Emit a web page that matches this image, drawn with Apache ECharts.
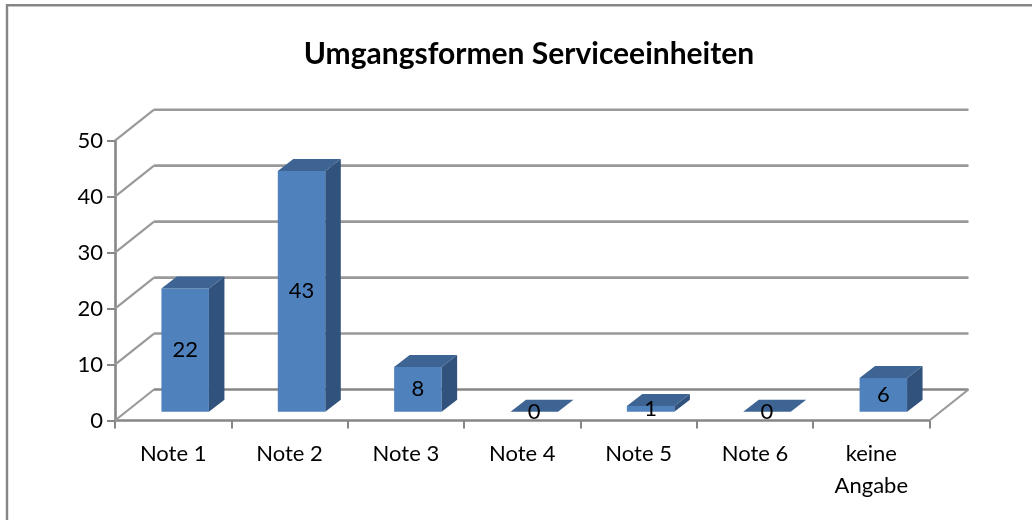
<!DOCTYPE html>
<html>
<head>
<meta charset="utf-8">
<style>html,body{margin:0;padding:0;background:#fff}#c{width:1032px;height:520px}</style>
<script src="https://cdn.jsdelivr.net/npm/echarts@6/dist/echarts.min.js"></script>
</head>
<body>
<div id="c"></div>
<script>
const titleText = 'Umgangsformen Serviceeinheiten';
const categories = ['Note 1','Note 2','Note 3','Note 4','Note 5','Note 6','keine\nAngabe'];
const values = [22,43,8,0,1,0,6];
const yTicks = [0,10,20,30,40,50];

const FONT = 'Lato';
const GREY = '#868686';
const WALL_DX = 39, WALL_DY = -31;
const BAR_W = 47.5, BAR_SHIFT_X = 12, BAR_SHIFT_Y = -8.8, DEPTH_X = 15.5, DEPTH_Y = -12;

function renderWall(params, api) {
  const p = api.coord([0, api.value(0)]);
  const r = params.coordSys;
  const x0 = r.x, y = p[1];
  const isFloor = api.value(0) === 0;
  const children = [
    {type:'line', shape:{x1:x0, y1:y, x2:x0+WALL_DX, y2:y+WALL_DY},
     style:{stroke:'#9a9a9a', lineWidth:2.2}},
    {type:'line', shape:{x1:x0+WALL_DX, y1:y+WALL_DY, x2:r.x+r.width+WALL_DX, y2:y+WALL_DY},
     style:{stroke:isFloor?GREY:'#9a9a9a', lineWidth:2.6}}
  ];
  if (isFloor) {
    children.push({type:'line', shape:{x1:r.x+r.width, y1:y, x2:r.x+r.width+WALL_DX, y2:y+WALL_DY},
      style:{stroke:'#9a9a9a', lineWidth:2.2}});
  }
  return {type:'group', children};
}

function renderBar(params, api) {
  const top = api.coord([api.value(0), api.value(1)]);
  const base = api.coord([api.value(0), 0]);
  const l = top[0] - BAR_W/2 + BAR_SHIFT_X, r = l + BAR_W;
  const t = top[1] + BAR_SHIFT_Y, b = base[1] + BAR_SHIFT_Y;
  const poly = (points, fill) => ({type:'polygon', shape:{points}, style:{fill}});
  const children = [];
  if (b - t > 0.01) {
    children.push(poly([[l,t],[r,t],[r,b],[l,b]], '#4f81bd'));
    children.push(poly([[r,t],[r+DEPTH_X,t+DEPTH_Y],[r+DEPTH_X,b+DEPTH_Y],[r,b]], '#31527c'));
  }
  children.push(poly([[l,t],[r,t],[r+DEPTH_X,t+DEPTH_Y],[l+DEPTH_X,t+DEPTH_Y]], '#3d6492'));
  children.push({type:'text', style:{
    x:(l+r)/2, y:(t+b)/2, text:String(api.value(1)), fill:'#000',
    font:'22px '+FONT, align:'center', verticalAlign:'middle'
  }});
  return {type:'group', children};
}

const chart = echarts.init(document.getElementById('c'), null, {renderer:'canvas'});
chart.setOption({
  animation:false,
  backgroundColor:'#fff',
  title:{text:titleText, left:524, top:34, textAlign:'center',
    textStyle:{fontFamily:FONT, fontSize:30, fontWeight:'bold', color:'#000'}},
  grid:{left:115, top:140.7, width:814.5, height:279.8},
  xAxis:{type:'category', data:categories,
    axisLine:{lineStyle:{color:GREY, width:2.6}},
    axisTick:{show:true, length:8, alignWithLabel:false, lineStyle:{color:GREY, width:2}},
    axisLabel:{fontFamily:FONT, fontSize:22, color:'#000', margin:17, lineHeight:32, interval:0},
    splitLine:{show:false}},
  yAxis:{type:'value', min:0, max:50, interval:10,
    axisLine:{show:true, lineStyle:{color:GREY, width:2.6}},
    axisTick:{show:true, length:8, lineStyle:{color:GREY, width:2}},
    axisLabel:{fontFamily:FONT, fontSize:22, color:'#000', margin:12},
    splitLine:{show:false}},
  series:[
    {type:'custom', name:'wall', renderItem:renderWall, clip:false, silent:true, z:1,
     encode:{y:0}, data:yTicks.map(v=>[v])},
    {type:'custom', name:'values', renderItem:renderBar, clip:false, z:3,
     encode:{x:0,y:1}, data:values.map((v,i)=>[i,v])}
  ],
  graphic:[
    {type:'line', shape:{x1:6,y1:5.2,x2:1032,y2:5.2}, style:{stroke:GREY,lineWidth:2.4}},
    {type:'line', shape:{x1:7,y1:4,x2:7,y2:520}, style:{stroke:GREY,lineWidth:2.4}}
  ]
});
</script>
</body>
</html>
